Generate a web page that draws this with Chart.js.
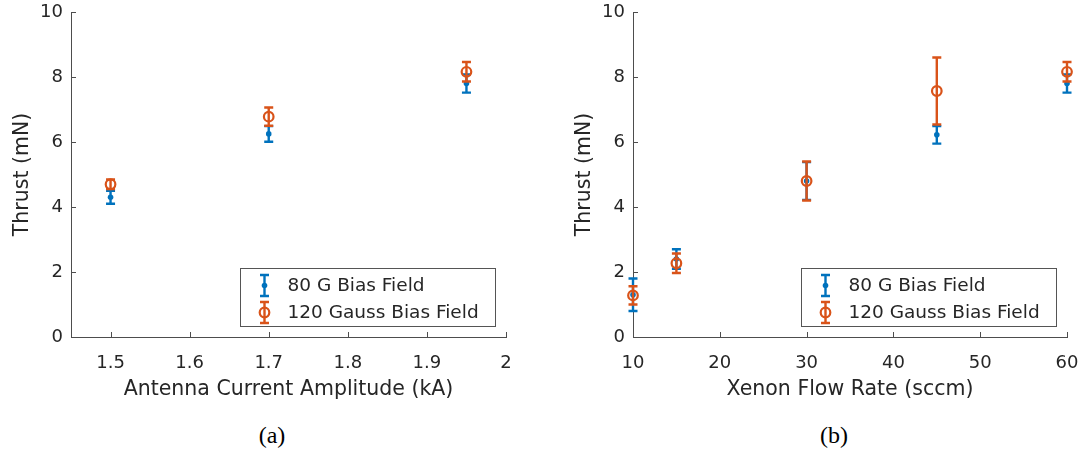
<!DOCTYPE html>
<html>
<head>
<meta charset="utf-8">
<title>Thrust vs antenna current and xenon flow rate</title>
<script src="https://cdn.jsdelivr.net/npm/chart.js@4.4.1/dist/chart.umd.min.js"></script>
<style>
  html, body { margin: 0; padding: 0; background: #fff; }
  body { width: 1081px; height: 450px; position: relative; overflow: hidden; }
  .panel { position: absolute; top: 0; height: 410px; }
  #panelA { left: 0; width: 540px; }
  #panelB { left: 540px; width: 541px; }
  .caption {
    position: absolute;
    top: 421px;
    font: 24px/28px "Liberation Serif", serif;
    color: #000;
    transform: translateX(-50%);
  }
</style>
</head>
<body>
<div class="panel" id="panelA"><canvas id="chartA" width="540" height="410"></canvas></div>
<div class="panel" id="panelB"><canvas id="chartB" width="541" height="410"></canvas></div>
<div class="caption" style="left:272px">(a)</div>
<div class="caption" style="left:834px">(b)</div>
<script>
// (a) thrust vs antenna current
const currentKA = [1.5, 1.7, 1.95];
const thrust80A = [4.3, 6.25, 7.8];
const err80A = [0.2, 0.24, 0.28];
const thrust120A = [4.7, 6.78, 8.16];
const err120A = [0.15, 0.28, 0.3];
const xTicksA = [1.5, 1.6, 1.7, 1.8, 1.9, 2];

// (b) thrust vs xenon flow
const flowSccm = [10, 15, 30, 45, 60];
const thrust80B = [1.3, 2.4, 4.8, 6.22, 7.8];
const err80B = [0.5, 0.3, 0.58, 0.27, 0.28];
const thrust120B = [1.28, 2.27, 4.8, 7.57, 8.16];
const err120B = [0.28, 0.3, 0.6, 1.03, 0.3];
const xTicksB = [10, 20, 30, 40, 50, 60];

const yTicks = [0, 2, 4, 6, 8, 10];
const seriesLabels = ["80 G Bias Field", "120 Gauss Bias Field"];

const BLUE = "#0072BD";
const ORANGE = "#D95319";
const TEXT = "#262626";
const AXIS = "#4d4d4d";
const FONT = "\"DejaVu Sans\", sans-serif";

Chart.defaults.font.family = FONT;
Chart.defaults.color = TEXT;

const toPoints = (xs, ys) => xs.map((x, i) => ({ x, y: ys[i] }));
const fmtTick = (v) => String(Number(Number(v).toFixed(2)));

const drawErrorBar = (ctx, x, yTop, yBottom, color) => {
  const cap = 4.5;
  ctx.save();
  ctx.strokeStyle = color;
  ctx.lineWidth = 2.4;
  ctx.beginPath();
  ctx.moveTo(x, yTop);
  ctx.lineTo(x, yBottom);
  ctx.moveTo(x - cap, yTop);
  ctx.lineTo(x + cap, yTop);
  ctx.moveTo(x - cap, yBottom);
  ctx.lineTo(x + cap, yBottom);
  ctx.stroke();
  ctx.restore();
};

const drawMarker = (ctx, x, y, ds) => {
  ctx.save();
  ctx.beginPath();
  ctx.arc(x, y, ds.pointRadius, 0, Math.PI * 2);
  if (ds.pointBackgroundColor !== "transparent") {
    ctx.fillStyle = ds.pointBackgroundColor;
    ctx.fill();
  }
  if (ds.pointBorderWidth > 0) {
    ctx.strokeStyle = ds.pointBorderColor;
    ctx.lineWidth = ds.pointBorderWidth;
    ctx.stroke();
  }
  ctx.restore();
};

// error bars go under each dataset's own markers
const errorBarPlugin = {
  id: "errorBars",
  beforeDatasetDraw(chart, args) {
    const ds = chart.data.datasets[args.index];
    const { x: xs, y: ys } = chart.scales;
    ds.data.forEach((p, i) => {
      const e = ds.errors[i];
      drawErrorBar(chart.ctx, xs.getPixelForValue(p.x), ys.getPixelForValue(p.y + e), ys.getPixelForValue(p.y - e), ds.borderColor);
    });
  }
};

// matlab-style ticks pointing into the plot
const innerTicksPlugin = {
  id: "innerTicks",
  afterDraw(chart) {
    const { ctx, chartArea, scales } = chart;
    const len = 5;
    ctx.save();
    ctx.strokeStyle = AXIS;
    ctx.lineWidth = 1;
    ctx.beginPath();
    scales.x.ticks.forEach((t) => {
      const px = Math.round(scales.x.getPixelForValue(t.value)) + 0.5;
      ctx.moveTo(px, chartArea.bottom);
      ctx.lineTo(px, chartArea.bottom - len);
    });
    scales.y.ticks.forEach((t) => {
      const py = Math.round(scales.y.getPixelForValue(t.value)) + 0.5;
      ctx.moveTo(chartArea.left, py);
      ctx.lineTo(chartArea.left + len, py);
    });
    ctx.stroke();
    ctx.restore();
  }
};

const boxLegendPlugin = {
  id: "boxLegend",
  afterDraw(chart) {
    const { ctx, chartArea } = chart;
    const w = 255;
    const h = 58;
    const left = Math.round(chartArea.right - 11 - w) + 0.5;
    const top = Math.round(chartArea.bottom - 11 - h) + 0.5;
    ctx.save();
    ctx.fillStyle = "#fff";
    ctx.fillRect(left, top, w, h);
    ctx.strokeStyle = "#555";
    ctx.lineWidth = 1;
    ctx.strokeRect(left, top, w, h);
    ctx.font = `18.5px ${FONT}`;
    ctx.fillStyle = TEXT;
    ctx.textBaseline = "middle";
    ctx.textAlign = "left";
    chart.data.datasets.forEach((ds, i) => {
      const cy = top + 17 + i * 27;
      const cx = left + 24;
      drawErrorBar(ctx, cx, cy - 10.5, cy + 10.5, ds.borderColor);
      drawMarker(ctx, cx, cy, ds);
      ctx.fillText(ds.label, left + 47, cy + 1);
    });
    ctx.restore();
  }
};

const makeChart = (canvasId, cfg) => new Chart(document.getElementById(canvasId), {
  type: "scatter",
  data: {
    datasets: [
      {
        label: seriesLabels[0],
        data: toPoints(cfg.x, cfg.blue),
        errors: cfg.blueErr,
        order: 2,
        borderColor: BLUE,
        pointRadius: 2.8,
        pointBackgroundColor: BLUE,
        pointBorderColor: BLUE,
        pointBorderWidth: 0,
        clip: false
      },
      {
        label: seriesLabels[1],
        data: toPoints(cfg.x, cfg.orange),
        errors: cfg.orangeErr,
        order: 1,
        borderColor: ORANGE,
        pointRadius: 4.8,
        pointBackgroundColor: "transparent",
        pointBorderColor: ORANGE,
        pointBorderWidth: 2.2,
        clip: false
      }
    ]
  },
  options: {
    responsive: false,
    animation: false,
    events: [],
    layout: { padding: cfg.padding },
    plugins: {
      legend: { display: false },
      tooltip: { enabled: false }
    },
    scales: {
      x: {
        type: "linear",
        min: cfg.xMin,
        max: cfg.xMax,
        afterBuildTicks: (s) => { s.ticks = cfg.xTicks.map((value) => ({ value })); },
        afterFit: (s) => {
          s.height = 65;
          // keep the plot edge fixed, the end labels can spill into the margin
          s.paddingLeft = 0;
          s.paddingRight = 0;
        },
        grid: { display: false, drawTicks: false },
        border: { display: true, color: AXIS, width: 1 },
        ticks: { callback: fmtTick, font: { size: 18 }, color: TEXT, padding: 16, maxRotation: 0, autoSkip: false },
        title: { display: true, text: cfg.xTitle, font: { size: 20.5 }, color: TEXT, padding: 0 }
      },
      y: {
        type: "linear",
        min: 0,
        max: 10,
        afterBuildTicks: (s) => { s.ticks = yTicks.map((value) => ({ value })); },
        afterFit: (s) => {
          s.width = 61;
          s.paddingTop = 0;
          s.paddingBottom = 0;
        },
        grid: { display: false, drawTicks: false },
        border: { display: true, color: AXIS, width: 1 },
        ticks: { callback: fmtTick, font: { size: 18 }, color: TEXT, padding: 8 },
        title: { display: true, text: "Thrust (mN)", font: { size: 20.5 }, color: TEXT, padding: 0 }
      }
    }
  },
  plugins: [errorBarPlugin, innerTicksPlugin, boxLegendPlugin]
});

makeChart("chartA", {
  x: currentKA,
  blue: thrust80A,
  blueErr: err80A,
  orange: thrust120A,
  orangeErr: err120A,
  xMin: 1.45,
  xMax: 2,
  xTicks: xTicksA,
  xTitle: "Antenna Current Amplitude (kA)",
  padding: { left: 10, right: 34, top: 12, bottom: 8 }
});

makeChart("chartB", {
  x: flowSccm,
  blue: thrust80B,
  blueErr: err80B,
  orange: thrust120B,
  orangeErr: err120B,
  xMin: 10,
  xMax: 60,
  xTicks: xTicksB,
  xTitle: "Xenon Flow Rate (sccm)",
  padding: { left: 32, right: 14, top: 12, bottom: 8 }
});
</script>
</body>
</html>
